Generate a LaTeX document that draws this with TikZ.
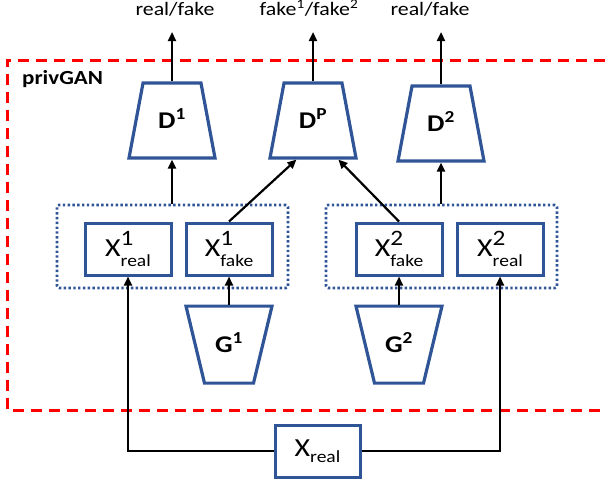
\documentclass[tikz,border=0pt]{standalone}
\usepackage{fontspec}
\setmainfont[FakeStretch=1.15]{Carlito}
\usetikzlibrary{shapes.geometric, positioning, arrows.meta}
\definecolor{boxblue}{RGB}{47,85,151}
\definecolor{privred}{RGB}{255,0,0}
\tikzset{
  disc/.style={
    trapezium,
    trapezium angle=79.4,
    trapezium stretches body,
    minimum width=86pt,
    text height=16pt, text depth=0pt,
    inner xsep=0pt, inner ysep=29.5pt,
    draw=boxblue, line width=3.2pt,
    font=\fontsize{24}{28}\selectfont\bfseries
  },
  gen/.style={
    disc,
    trapezium angle=76.5,
    inner ysep=30.5pt,
    shape border rotate=180
  },
  data/.style={
    rectangle,
    draw=boxblue, line width=3pt,
    minimum width=86pt,
    minimum height=52pt,
    inner sep=0pt,
    font=\fontsize{26}{30}\selectfont
  },
  group/.style={
    rectangle,
    draw=boxblue, line width=2.6pt,
    dash pattern=on 2.4pt off 2.4pt,
    rounded corners=2pt,
    minimum width=231pt,
    minimum height=83pt
  },
  outlabel/.style={
    anchor=base,
    inner sep=0pt,
    text depth=0pt,
    outer ysep=17pt,
    font=\fontsize{19}{23}\selectfont
  },
  arrow/.style={
    draw=black,
    line width=2.2pt,
    -{Triangle[length=9pt, width=8pt]}
  }
}
\newcommand*\xlab[2]{X\rlap{\raisebox{11pt}{\fontsize{22}{22}\selectfont #1}}\raisebox{-10pt}{\fontsize{17}{17}\selectfont #2}}
\newcommand*\xsub[1]{X\raisebox{-6pt}{\fontsize{17}{17}\selectfont #1}}

\begin{document}
\begin{tikzpicture}[x=1pt, y=-1pt]
\useasboundingbox (0,0) rectangle (605,479);

% privGAN frame
\draw[privred, line width=3pt, dash pattern=on 11pt off 7pt]
  (605,60) -- (7,60) -- (7,410) -- (605,410);
\node[anchor=base west, inner sep=0pt, font=\fontsize{20}{24}\selectfont\bfseries] (title) at (22,84) {privGAN};

% nodes
\node[group] (grp1) at (172.5,246.5) {};
\node[group] (grp2) at (441.5,246.5) {};

\node[disc] (d1) at (172,120.5) {D\textsuperscript{1}};
\node[disc] (dp) at (313,120.5) {D\textsuperscript{P}};
\node[disc] (d2) at (441,123.5) {D\textsuperscript{2}};

\node[data] (x1r) at (128,249) {\xlab{1}{real}};
\node[data, right=12pt of x1r] (x1f) {\xlab{1}{fake}};
\node[data] (x2f) at (399,249) {\xlab{2}{fake}};
\node[data, right=12pt of x2f] (x2r) {\xlab{2}{real}};

\node[gen, below=28pt of x1f] (g1) {G\textsuperscript{1}};
\node[gen, below=28pt of x2f] (g2) {G\textsuperscript{2}};

\node[data, minimum width=85pt] (xr) at (317.5,451) {\xsub{real}};

\node[outlabel] (o1) at (175,15) {real/fake};
\node[outlabel] (op) at (309,15) {fake\textsuperscript{1}/fake\textsuperscript{2}};
\node[outlabel] (o2) at (430,15) {real/fake};

% edges

%% outputs
\draw[arrow] (d1.north) -- (d1.north |- o1.south);
\draw[arrow] (dp.north) -- (dp.north |- op.south);
\draw[arrow] (d2.north) -- (d2.north |- o2.south);

%% samples to discriminators
\draw[arrow] (d1.south |- grp1.north) -- (d1.south);
\draw[arrow] (d2.south |- grp2.north) -- (d2.south);
\draw[arrow] (x1f.north) -- (dp.-113);
\draw[arrow] (x2f.north) -- (dp.-57);

%% generators
\draw[arrow] (g1.north) -- (x1f.south);
\draw[arrow] (g2.north) -- (x2f.south);

%% real data split
\draw[arrow] (xr.west) -| (x1r.south);
\draw[arrow] (xr.east) -| (x2r.south);

\end{tikzpicture}
\end{document}
